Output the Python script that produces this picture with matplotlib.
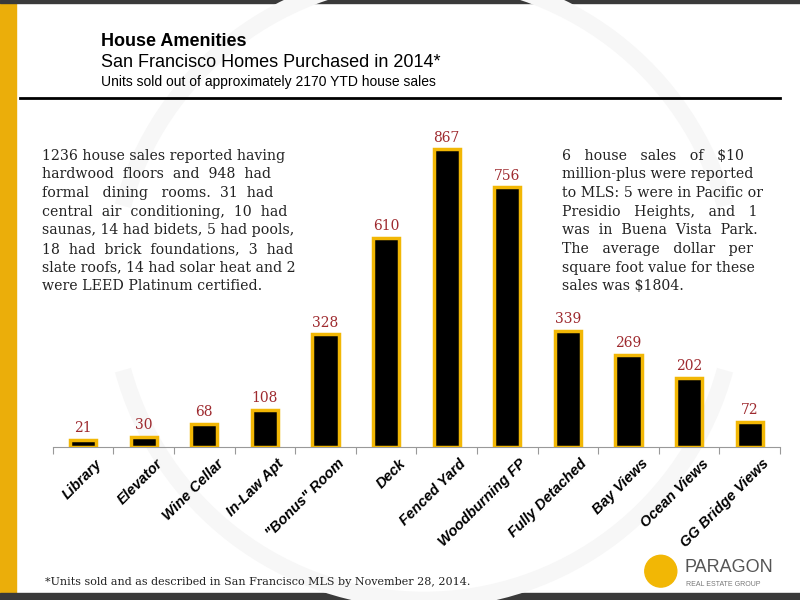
import matplotlib.pyplot as plt
from matplotlib.patches import Rectangle, Ellipse, Arc

# data
amenities = ["Library", "Elevator", "Wine Cellar", "In-Law Apt", "\"Bonus\" Room",
             "Deck", "Fenced Yard", "Woodburning FP", "Fully Detached",
             "Bay Views", "Ocean Views", "GG Bridge Views"]
units = [21, 30, 68, 108, 328, 610, 867, 756, 339, 269, 202, 72]

gold = "#F2B705"
red = "#9E2A2F"

fig = plt.figure(figsize=(8, 6), dpi=100)
fig.patch.set_facecolor("white")

# frame decorations
fig.add_artist(Rectangle((0, 0), 0.02, 1, transform=fig.transFigure, color="#EBAE0A", zorder=0))
fig.add_artist(Rectangle((0, 0.995), 1, 0.005, transform=fig.transFigure, color="#3a3a3a", zorder=0))
fig.add_artist(Rectangle((0, 0), 1, 0.012, transform=fig.transFigure, color="#3a3a3a", zorder=0))
# faint watermark arc
for t1, t2 in [(200, 340), (20, 160)]:
    fig.add_artist(Arc((0.53, 0.52), 0.78, 1.04, theta1=t1, theta2=t2, transform=fig.transFigure,
                       color="#f7f7f7", lw=12, zorder=0))

# titles
fig.text(0.126, 0.93, "House Amenities", fontsize=13, fontweight="bold",
         family="Liberation Sans", va="center")
fig.text(0.126, 0.896, "San Francisco Homes Purchased in 2014*", fontsize=13,
         family="Liberation Sans", va="center")
fig.text(0.126, 0.863, "Units sold out of approximately 2170 YTD house sales", fontsize=10,
         family="Liberation Sans", va="center")
fig.add_artist(plt.Line2D([0.025, 0.975], [0.837, 0.837], transform=fig.transFigure,
                          color="black", lw=2))

ax = fig.add_axes([0.066, 0.255, 0.909, 0.515])
ax.patch.set_alpha(0)
x = range(len(units))
ax.bar(x, units, width=0.43, color="black", edgecolor=gold, linewidth=2.5, zorder=3)
for xi, v in zip(x, units):
    ax.text(xi, v + 14, str(v), ha="center", va="bottom", fontsize=10,
            color=red, family="DejaVu Serif")

ax.set_xlim(-0.5, len(units) - 0.5)
ax.set_ylim(0, 900)
ax.set_yticks([])
for s in ["top", "right", "left"]:
    ax.spines[s].set_visible(False)
ax.spines["bottom"].set_color("#999999")
ax.set_xticks([i + 0.5 for i in range(-1, len(units))])
ax.set_xticklabels([])
ax.tick_params(axis="x", length=5, color="#999999", direction="out")
for xi, lab in zip(x, amenities):
    ax.text(xi + 0.2, -28, lab, rotation=45, ha="right", va="top", fontsize=10.5,
            fontweight="bold", fontstyle="italic", family="Liberation Sans",
            rotation_mode="anchor")

left_note = ("1236 house sales reported having\n"
             "hardwood  floors  and  948  had\n"
             "formal   dining   rooms.  31  had\n"
             "central  air  conditioning,  10  had\n"
             "saunas, 14 had bidets, 5 had pools,\n"
             "18  had  brick  foundations,  3  had\n"
             "slate roofs, 14 had solar heat and 2\n"
             "were LEED Platinum certified.")
fig.text(0.052, 0.752, left_note, fontsize=10.2, family="DejaVu Serif", va="top",
         linespacing=1.42, color="#222222")

right_note = ("6   house   sales   of   $10\n"
              "million-plus were reported\n"
              "to MLS: 5 were in Pacific or\n"
              "Presidio   Heights,   and   1\n"
              "was  in  Buena  Vista  Park.\n"
              "The   average   dollar   per\n"
              "square foot value for these\n"
              "sales was $1804.")
fig.text(0.703, 0.752, right_note, fontsize=10.2, family="DejaVu Serif", va="top",
         linespacing=1.42, color="#222222")

fig.text(0.056, 0.025, "*Units sold and as described in San Francisco MLS by November 28, 2014.",
         fontsize=8, family="DejaVu Serif", color="#222222")

# logo
fig.add_artist(Ellipse((0.826, 0.048), 0.04, 0.053, transform=fig.transFigure, color=gold, zorder=2))
fig.text(0.855, 0.055, "PARAGON", fontsize=13, family="Liberation Sans", color="#555555", va="center")
fig.text(0.857, 0.025, "REAL ESTATE GROUP", fontsize=5, family="Liberation Sans", color="#777777",
         va="center")

fig.savefig("out.png", dpi=100)
